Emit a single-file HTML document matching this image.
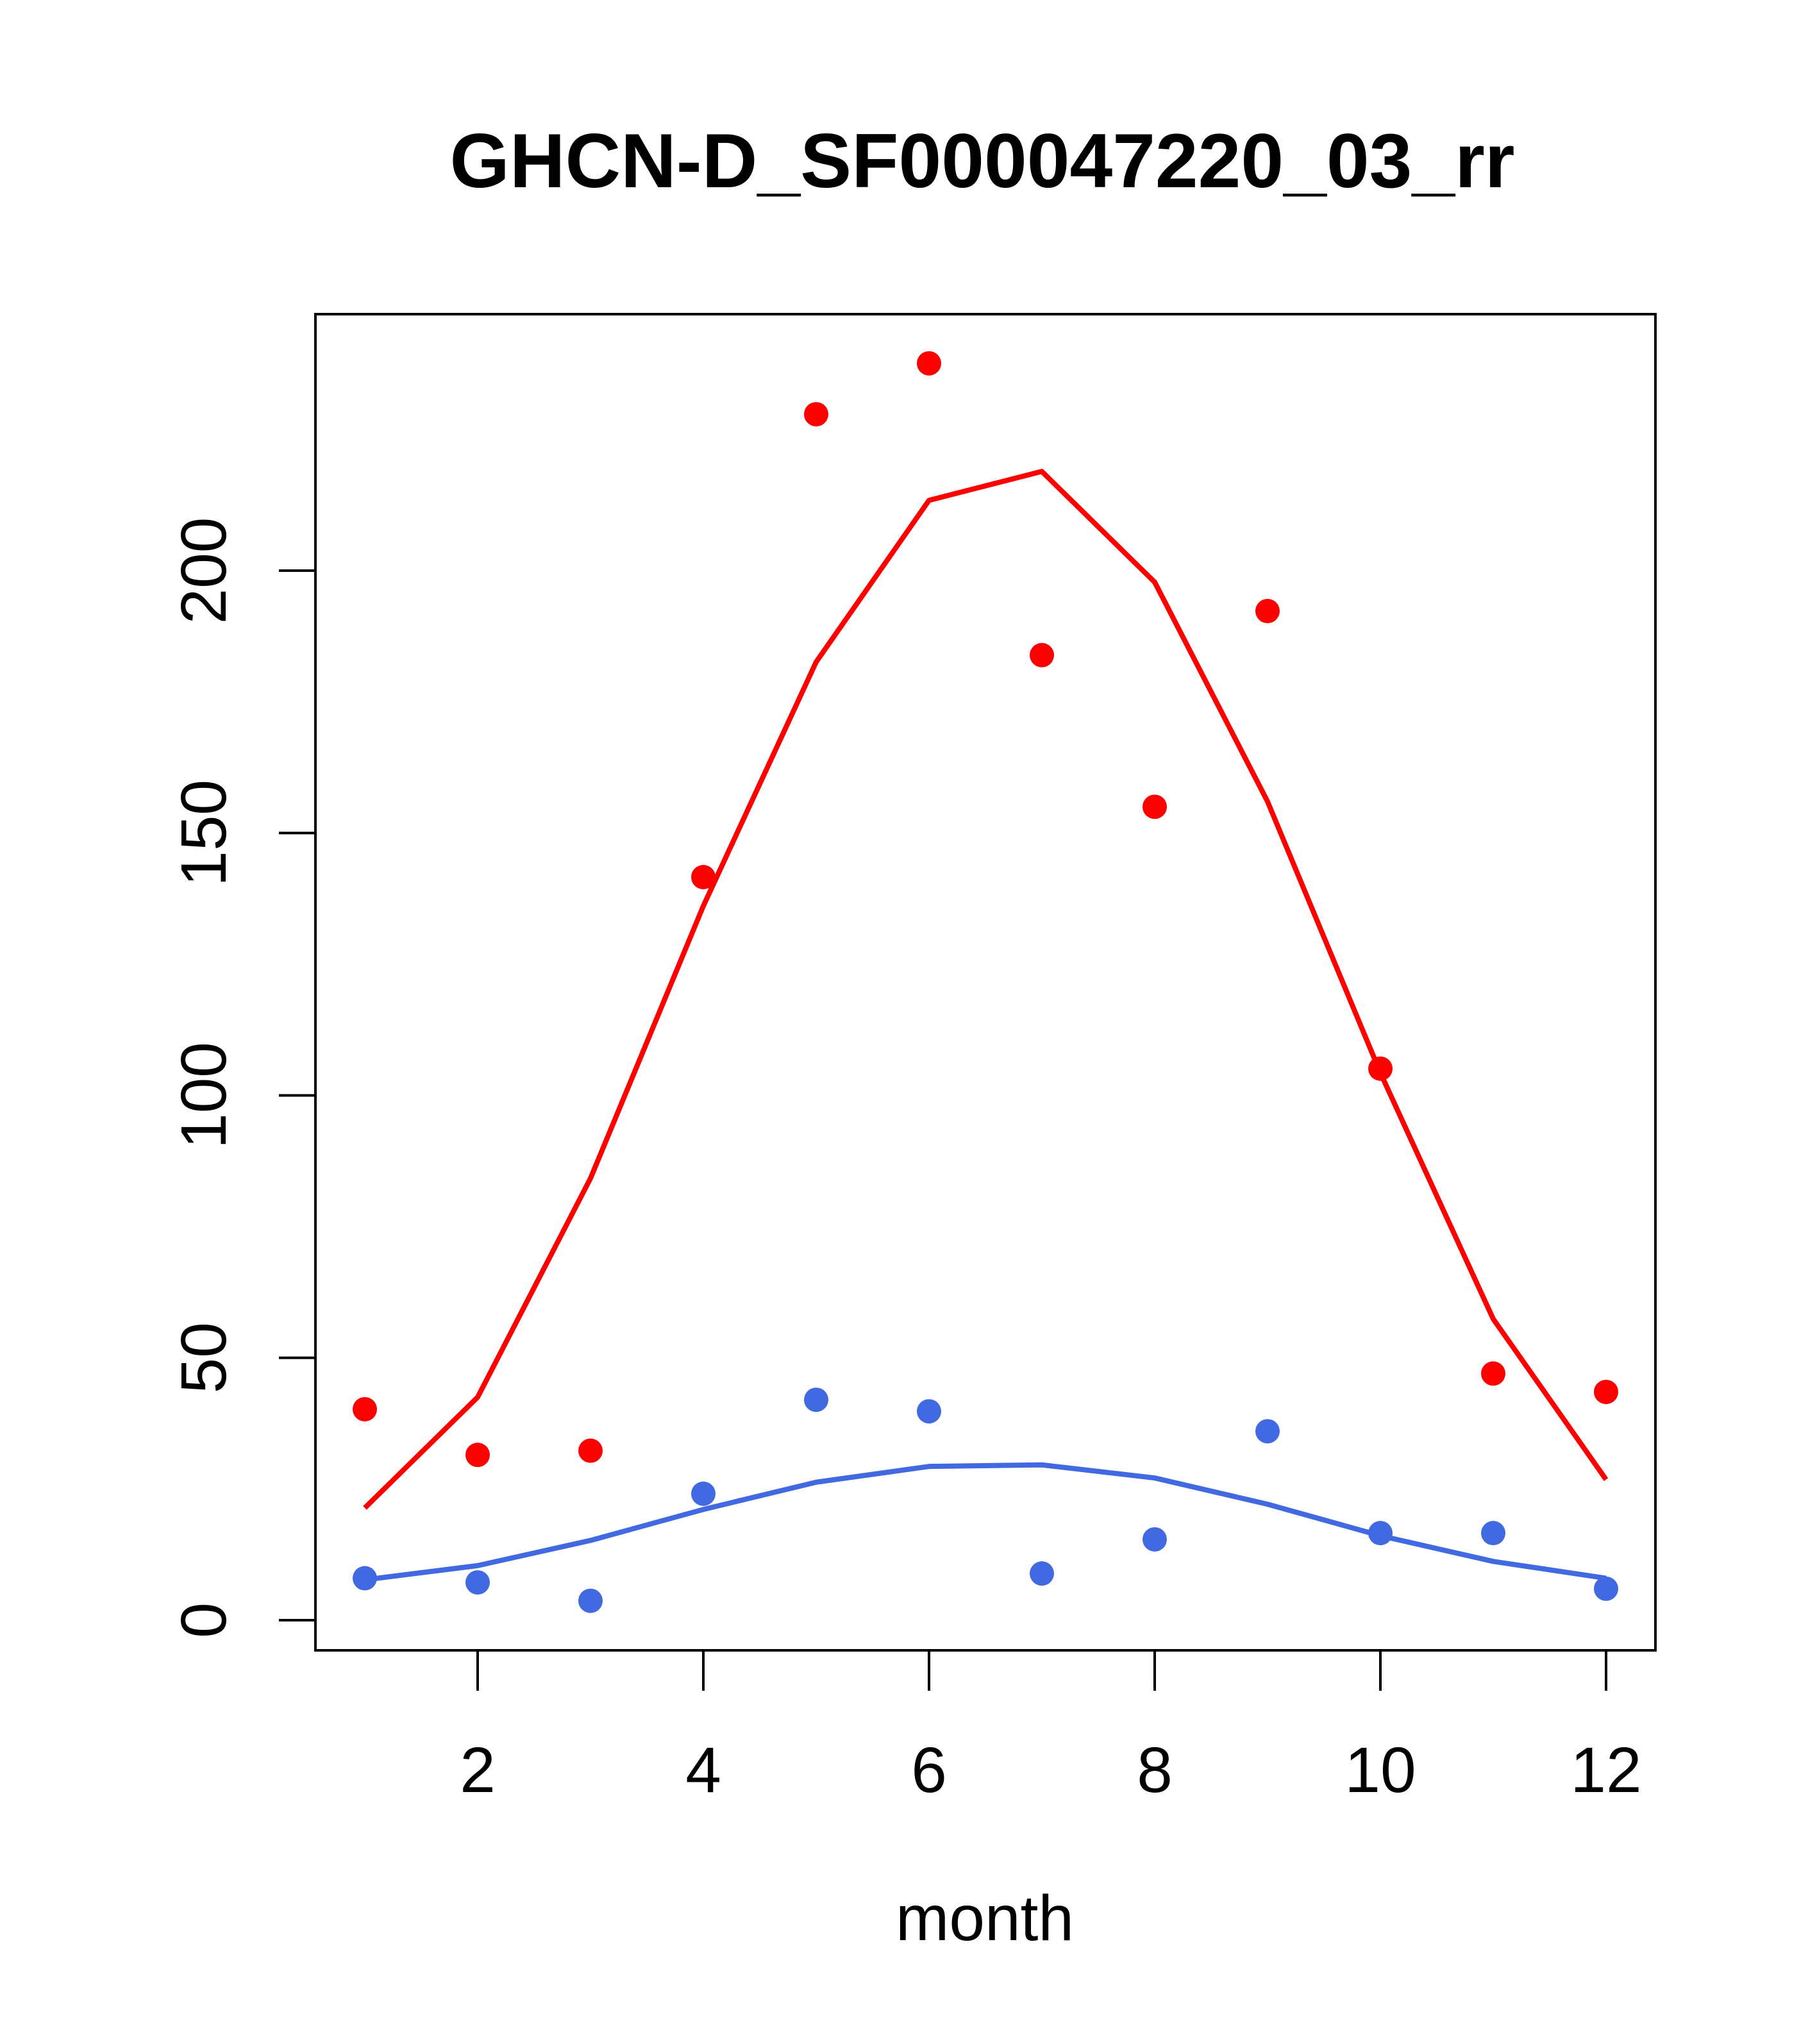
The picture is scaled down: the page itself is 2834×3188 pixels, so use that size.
<!DOCTYPE html>
<html><head><meta charset="utf-8"><style>html,body{margin:0;padding:0;background:#fff}svg{display:block}</style></head>
<body>
<svg id="chart" width="2834" height="3188" viewBox="0 0 2834 3188" xmlns="http://www.w3.org/2000/svg" font-family="Liberation Sans, sans-serif">
<text x="1532" y="292" font-size="120" font-weight="bold" text-anchor="middle">GHCN-D_SF000047220_03_rr</text>
<rect x="492" y="490" width="2090" height="2084" fill="none" stroke="#000" stroke-width="4"/>
<text x="1536" y="3026" font-size="100" text-anchor="middle">month</text>
<g id="axes"></g>
<g id="marks"></g>
</svg>
<script>
const months = [1,2,3,4,5,6,7,8,9,10,11,12];
const redPoints = [40.2,31.5,32.3,141.6,229.8,239.5,183.9,155,192.3,105.1,47,43.5];
const redLine = [21.4,42.5,84.2,136.1,182.6,213.4,218.9,197.8,156,104.3,57.4,26.8];
const bluePoints = [8,7.2,3.7,24.1,42,39.8,8.9,15.4,36,16.6,16.6,6];
const blueLine = [7.7,10.4,15.2,21.1,26.3,29.3,29.6,27.1,22.1,16.1,11.2,8];
const xTicks = [2,4,6,8,10,12];
const yTicks = [0,50,100,150,200];
const NS='http://www.w3.org/2000/svg';
const xs = m => 569 + (m-1)*176.0;
const ys = v => 2527 - v*8.185;
const axes=document.getElementById('axes'), marks=document.getElementById('marks');
function mk(tag, attrs, parent){const e=document.createElementNS(NS,tag);for(const k in attrs)e.setAttribute(k,attrs[k]);parent.appendChild(e);return e;}
xTicks.forEach(t=>{
  const l=mk('line',{x1:xs(t),x2:xs(t),y1:2574,y2:2637,stroke:'#000','stroke-width':4},axes);
  
  
  const tx=mk('text',{x:xs(t),y:2795,'font-size':100,'text-anchor':'middle'},axes);
  tx.textContent=t;
  
  
});
yTicks.forEach(t=>{
  const l=mk('line',{x1:435,x2:492,y1:ys(t),y2:ys(t),stroke:'#000','stroke-width':4},axes);
  
  
  const tx=mk('text',{x:0,y:0,'font-size':100,'text-anchor':'middle',transform:`translate(352,${ys(t)}) rotate(-90)`},axes);
  tx.textContent=t;
  
  
});
function line(vals,color,name){
  const p=mk('polyline',{points:vals.map((v,i)=>xs(months[i])+','+ys(v)).join(' '),fill:'none',stroke:color,'stroke-width':8,'stroke-linejoin':'round'},marks);
  
  
}
function pts(vals,color,name){
  vals.forEach((v,i)=>{
    const c=mk('circle',{cx:xs(months[i]),cy:ys(v),r:19,fill:color},marks);
    
    
  });
}
line(redLine,'#ff0000','red-line');
line(blueLine,'#4169e1','blue-line');
pts(redPoints,'#ff0000','red-point');
pts(bluePoints,'#4169e1','blue-point');
</script>
</body></html>
